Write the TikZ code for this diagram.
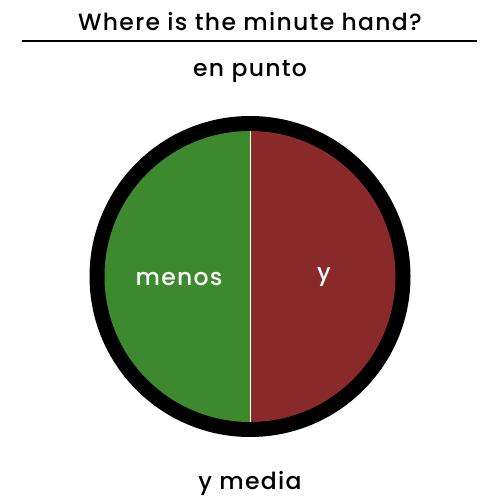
\documentclass[tikz,border=0pt]{standalone}
\usepackage{fontspec}
\setmainfont{Poppins}[UprightFont=* Medium, LetterSpace=5.5]
\definecolor{clockgreen}{RGB}{61,137,45}
\definecolor{clockred}{RGB}{137,41,41}
\begin{document}
\begin{tikzpicture}[x=1pt,y=-1pt,
  lbl/.style={font=\fontsize{23.5}{27}\selectfont, inner sep=0pt},
  wlbl/.style={lbl, text=white}]
\useasboundingbox (0,0) rectangle (500,500);
\node[lbl] (title) at (250,22) {Where is the minute hand?};
\coordinate (rl) at (22,41);
\coordinate (rr) at (477,41);
\draw[line width=2pt] (rl) -- (rr);
\node[lbl] (top) at (250,71) {en punto};
\coordinate (c) at (250,276.5);
\fill[black] (c) circle (160.5);
\fill[clockgreen] (250,131) arc (-90:-270:145.5) -- cycle;
\fill[clockred] (250,131) arc (-90:90:145.5) -- cycle;
\coordinate (dt) at (250,131);
\coordinate (db) at (250,422);
\draw[white, line width=1pt] (dt) -- (db);
\node[wlbl] (menos) at (179,279) {menos};
\node[wlbl] (y) at (324,277) {y};
\node[lbl] (bottom) at (250,483) {y media};
\end{tikzpicture}
\end{document}
